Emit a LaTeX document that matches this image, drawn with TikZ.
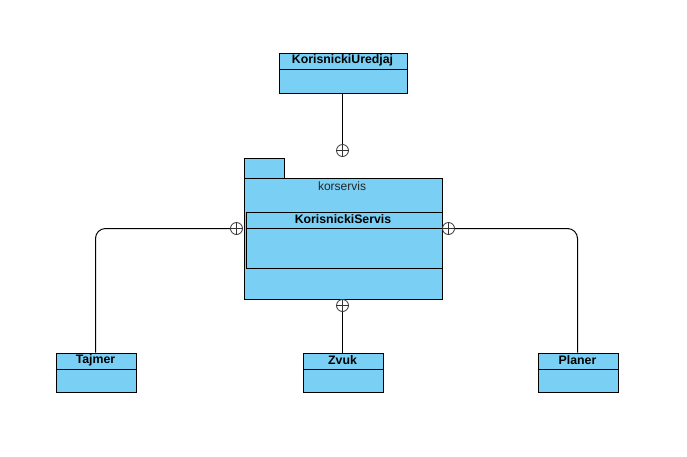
\documentclass[tikz,border=0pt]{standalone}
\usepackage{fontspec}
\setmainfont{Liberation Sans}
\definecolor{umlblue}{RGB}{122,207,245}
\begin{document}
\begin{tikzpicture}[x={(1pt,0)},y={(0,-1pt)},
  box/.style={draw=black,fill=umlblue,line width=1pt,rectangle,inner sep=0pt,anchor=north west},
  ctitle/.style={font=\fontsize{12.3}{13}\selectfont\bfseries,inner sep=0pt,anchor=center},
  ptitle/.style={font=\fontsize{12}{13}\selectfont,inner sep=0pt,anchor=center,text=black!85},
  plusc/.style={circle,draw=black!80,fill=white,line width=0.8pt,minimum size=12pt,inner sep=0pt,
    path picture={\draw[black!80,line width=0.8pt] (path picture bounding box.north)--(path picture bounding box.south)
      (path picture bounding box.west)--(path picture bounding box.east);}},
  conn/.style={draw=black,line width=1pt,rounded corners=10pt}]
\useasboundingbox (0,0) rectangle (687,456);
% top class
\node[box,minimum width=128pt,minimum height=40pt] (ku) at (278.5,52.5) {};
\draw[line width=1pt] (278.5,69.5) -- (406.5,69.5);
\node[ctitle] (kut) at (342.5,60.5) {KorisnickiUredjaj};
% package
\node[box,minimum width=40pt,minimum height=20pt] (tab) at (243.5,157.5) {};
\node[box,minimum width=198pt,minimum height=121pt] (pkg) at (243.5,177.5) {};
\node[ptitle] (pkgt) at (342,186) {korservis};
% inner class
\node[box,minimum width=196pt,minimum height=56pt] (ks) at (245.5,211.5) {};
\draw[line width=1pt] (245.5,228.5) -- (441.5,228.5);
\node[ctitle] (kst) at (343,219) {KorisnickiServis};
% bottom classes
\node[box,minimum width=80pt,minimum height=39pt] (taj) at (55.5,352.5) {};
\draw[line width=1pt] (55.5,369.5) -- (135.5,369.5);
\node[ctitle] (tajt) at (95.5,360.5) {Tajmer};
\node[box,minimum width=80pt,minimum height=39pt] (zv) at (302.5,352.5) {};
\draw[line width=1pt] (302.5,369.5) -- (382.5,369.5);
\node[ctitle] (zvt) at (342.5,360.5) {Zvuk};
\node[box,minimum width=80pt,minimum height=39pt] (pl) at (537.5,352.5) {};
\draw[line width=1pt] (537.5,369.5) -- (617.5,369.5);
\node[ctitle] (plt) at (577.5,360.5) {Planer};
% circles
\node[plusc] (c1) at (342.5,150.5) {};
\node[plusc] (c2) at (236.5,228.5) {};
\node[plusc] (c3) at (448.5,228.5) {};
\node[plusc] (c4) at (342.5,305.5) {};
% connectors
\draw[conn] (ku.south -| c1) -- (c1.north);
\draw[conn] (c2.west) -- (95.5,228.5) -- (95.5,352.5);
\draw[conn] (c3.east) -- (577.5,228.5) -- (577.5,352.5);
\draw[conn] (c4.south) -- (zv.north -| c4);
\end{tikzpicture}
\end{document}
